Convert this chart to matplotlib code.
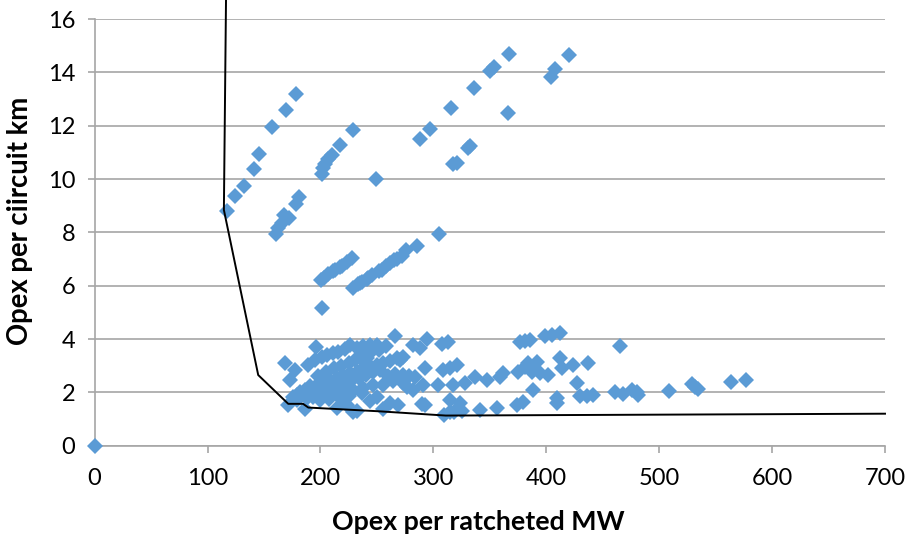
import matplotlib
matplotlib.use("Agg")
import matplotlib.pyplot as plt

plt.rcParams['font.family'] = ['Lato', 'DejaVu Sans']

# ---- data ----
# upper diagonal series
x_hi1 = [117.5, 124.6, 132.3, 141.2, 145.6, 156.8, 169.2, 178.1]
y_hi1 = [8.81, 9.36, 9.74, 10.37, 10.94, 11.94, 12.59, 13.19]
x_hi2 = [160.4, 162.7, 165.7, 168.0, 172.5, 178.1, 181.3,
         201.7, 202.6, 204.0, 207.0, 210.5, 217.3, 228.9, 249.2]
y_hi2 = [7.94, 8.15, 8.34, 8.65, 8.53, 9.06, 9.31,
         10.18, 10.40, 10.55, 10.74, 10.90, 11.26, 11.84, 9.99]
x_hi3 = [288.2, 297.0, 315.4, 317.1, 320.7, 331.0, 332.5, 336.0, 350.2, 354.0, 367.3,
         366.4, 403.9, 408.0, 419.9]
y_hi3 = [11.49, 11.86, 12.65, 10.56, 10.59, 11.15, 11.25, 13.42, 14.06, 14.21, 14.69,
         12.46, 13.84, 14.11, 14.65]
# middle series (5 - 8)
x_mid = [200.2, 201.1, 203.0, 207.0, 211.0, 212.9, 217.3, 219.0, 223.3, 227.7,
         229.1, 233.0, 235.0, 237.0, 241.0, 242.4, 246.0, 252.0, 254.2, 258.0,
         261.6, 265.0, 268.0, 272.0, 276.0, 285.2, 305.3]
y_mid = [6.21, 5.15, 6.30, 6.45, 6.55, 6.59, 6.71, 6.75, 6.90, 7.03,
         5.90, 6.05, 6.09, 6.15, 6.25, 6.28, 6.40, 6.55, 6.59, 6.75,
         6.84, 6.95, 7.00, 7.10, 7.34, 7.49, 7.94]
# lower cluster (1 - 4.3)
x_low = [168.6, 177.5, 173.0, 171.5, 186.3, 196.0, 266.0, 179.0,
         189.3, 195.2, 201.1, 205.5, 211.4, 215.9, 221.8, 226.2, 232.1, 238.0, 243.9, 249.8, 235.1, 241.0,
         176.0, 181.9, 186.3, 190.8, 196.7, 202.6, 208.5, 214.4, 220.3, 226.2, 232.1, 238.0, 243.9,
         249.8, 255.7, 261.6, 267.5, 273.4,
         179.0, 187.8, 193.7, 202.6, 211.4, 220.3, 229.1, 238.0, 246.9, 255.7, 264.6, 273.4,
         214.4, 223.2, 232.1, 243.9, 255.7, 269.0, 249.8, 236.5, 229.1,
         198.0, 205.0, 212.0, 218.0, 225.0, 231.0, 245.0, 252.0, 258.0, 222.0, 228.0, 234.0, 240.0,
         247.0, 253.0, 260.0, 266.0, 272.0, 278.0, 198.0, 204.0, 210.0, 216.0, 190.0, 200.0, 208.0,
         217.0, 225.0,
         282.3, 288.2, 294.1, 307.4, 313.3, 376.8, 381.2, 385.6, 398.9, 404.8, 412.2,
         270.5, 292.6, 273.0, 283.8, 308.8, 314.8, 320.7, 304.4, 317.7, 328.1, 337.0, 347.3,
         359.0, 362.0, 375.3, 381.2, 384.1, 391.5, 387.1, 394.5, 401.8, 412.2, 413.7, 424.0,
         437.3, 427.0, 388.5, 409.2, 409.2, 429.9, 435.8, 441.7, 276.4, 282.3, 291.1, 292.6,
         314.8, 323.6, 314.8, 341.3, 356.1, 373.8, 379.7, 309.0, 318.0, 325.0, 262.0, 290.0,
         460.9, 468.3, 475.7, 481.6, 480.1, 508.7, 528.8, 534.7, 531.7, 563.3, 576.6, 465.3]
y_low = [3.09, 2.84, 2.46, 1.52, 1.38, 3.69, 4.10, 1.90,
         3.03, 3.22, 3.34, 3.41, 3.47, 3.53, 3.63, 3.76, 3.66, 3.72, 3.78, 3.76, 3.34, 3.28,
         1.84, 2.03, 2.09, 2.22, 2.28, 2.41, 2.47, 2.53, 2.66, 2.72, 2.78, 2.91, 2.97,
         3.03, 3.09, 3.16, 3.28, 3.34,
         1.72, 1.78, 1.84, 1.91, 1.97, 2.03, 2.09, 2.16, 2.28, 2.28, 2.41, 2.34,
         1.40, 1.53, 1.30, 1.66, 1.36, 1.53, 1.84, 1.97, 1.27,
         2.60, 2.75, 2.90, 3.00, 3.10, 3.20, 3.50, 3.60, 3.75, 2.35, 2.45, 2.55, 2.65,
         2.75, 2.85, 2.60, 2.70, 2.55, 2.60, 1.95, 2.10, 2.20, 2.15, 1.95, 1.70, 1.75,
         1.80, 1.85,
         3.78, 3.65, 4.00, 3.82, 3.90, 3.88, 3.93, 3.98, 4.10, 4.14, 4.24,
         3.21, 2.90, 2.65, 2.59, 2.84, 2.90, 3.03, 2.28, 2.28, 2.34, 2.59, 2.46,
         2.59, 2.71, 2.78, 2.96, 3.09, 3.15, 2.78, 2.71, 2.65, 3.28, 2.90, 3.03,
         3.10, 2.35, 2.10, 1.80, 1.59, 1.86, 1.86, 1.90, 2.21, 2.09, 2.28, 1.53,
         1.71, 1.59, 1.27, 1.34, 1.40, 1.53, 1.65, 1.15, 1.25, 1.30, 1.60, 1.55,
         2.01, 1.95, 2.08, 1.90, 2.03, 2.05, 2.31, 2.11, 2.20, 2.40, 2.46, 3.73]
x_origin = [0]
y_origin = [0]

# efficiency frontier
x_front = [116.4, 114.5, 144.9, 171.5, 184.6, 189.3, 252.0, 311.0, 700.0]
y_front = [16.8, 8.84, 2.65, 1.57, 1.57, 1.43, 1.29, 1.13, 1.20]

x_ticks = [0, 100, 200, 300, 400, 500, 600, 700]
y_ticks = [0, 2, 4, 6, 8, 10, 12, 14, 16]
x_label = "Opex per ratcheted MW"
y_label = "Opex per ciircuit km"

BLUE = "#5B9BD5"
GRID = "#A6A6A6"

fig = plt.figure(figsize=(9.07, 5.35), dpi=100)
ax = fig.add_axes([94.6/907, 1-445.7/535, (885-94.6)/907, (445.7-19)/535])

xs = x_hi1 + x_hi2 + x_hi3 + x_mid + x_low + x_origin
ys = y_hi1 + y_hi2 + y_hi3 + y_mid + y_low + y_origin
ax.plot(xs, ys, linestyle="none", marker="D", markersize=7.9, color=BLUE,
        markeredgewidth=0, zorder=3, clip_on=False)
ax.plot(x_front, y_front, color="black", lw=1.4, zorder=4, clip_on=False)

ax.set_xlim(0, 700)
ax.set_ylim(0, 16)
ax.set_xticks(x_ticks)
ax.set_yticks(y_ticks)
ax.yaxis.grid(True, color=GRID, lw=1.2)
ax.set_axisbelow(True)
for s in ["top", "right"]:
    ax.spines[s].set_visible(False)
for s in ["left", "bottom"]:
    ax.spines[s].set_color(GRID)
    ax.spines[s].set_linewidth(1.2)
ax.tick_params(axis="both", colors=GRID, labelcolor="black", labelsize=17,
               length=5, width=1.2, direction="out")
ax.tick_params(axis="y", pad=9)
ax.tick_params(axis="x", pad=11)

fig.text(478/907, 1-522/535, x_label, ha="center", va="center",
         fontsize=19.3, fontweight="bold")
fig.text(20/907, 1-221/535, y_label, ha="center", va="center",
         rotation=90, fontsize=19.8, fontweight="bold")

fig.savefig("out.png", dpi=100)
